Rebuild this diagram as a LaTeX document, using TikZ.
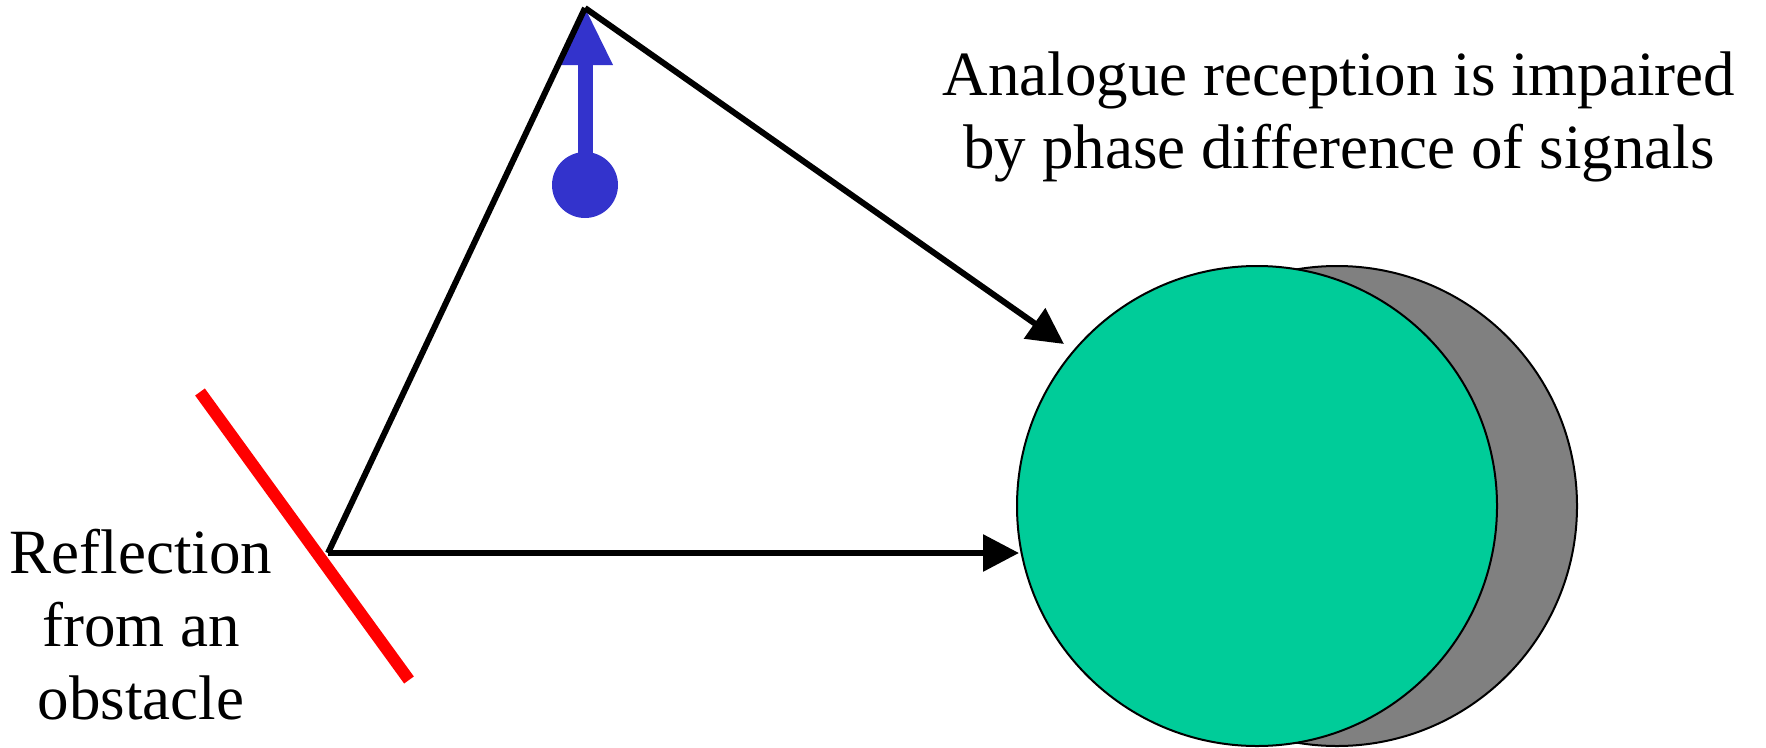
\documentclass[tikz,border=0pt]{standalone}
\usepackage{fontspec}
\setmainfont{Liberation Serif}
\usetikzlibrary{arrows.meta,shapes.geometric}
\definecolor{tealg}{HTML}{00CC99}
\definecolor{grayd}{HTML}{808080}
\definecolor{antblue}{HTML}{3333CC}
\definecolor{obsred}{HTML}{FF0000}
\tikzset{
  disc/.style={ellipse,draw=black,line width=2pt,inner sep=0pt,outer sep=0pt,minimum width=480pt,minimum height=480pt},
  ray/.style={draw=black,line width=6pt},
  rayarrow/.style={ray,-{Triangle[length=36pt,width=36pt]}},
  lbl/.style={align=center,inner sep=0pt,font=\fontsize{63}{73}\selectfont},
}
\begin{document}
\begin{tikzpicture}[x=1pt,y=-1pt]
\useasboundingbox (0,0) rectangle (1766,747);
% receiver discs
\node[disc,fill=grayd] (back) at (1337,506) {};
\node[disc,fill=tealg] (front) at (1257,506) {};
% obstacle
\draw[obsred,line width=12pt] (200,392) -- (409,680);
% antenna
\coordinate (tx) at (585,8);
\fill[antblue] (578,62) rectangle (593,175);
\fill[antblue] (tx) -- (613,65) -- (557,65) -- cycle;
\node[circle,fill=antblue,inner sep=0pt,minimum size=66pt] (base) at (585,185) {};
% rays
\coordinate (rp) at (328,553);
\coordinate (e1) at (1064,344);
\coordinate (e2) at (1019,553);
\draw[ray,line join=miter] (rp) -- (tx);
\draw[rayarrow] (tx) -- (e1);
\draw[rayarrow] (rp) -- (e2);
% labels
\node[lbl] (top) at (1339,117) {Analogue reception is impaired\\by phase difference of signals};
\node[lbl] (left) at (141,625) {Reflection\\from an\\obstacle};
\end{tikzpicture}
\end{document}
